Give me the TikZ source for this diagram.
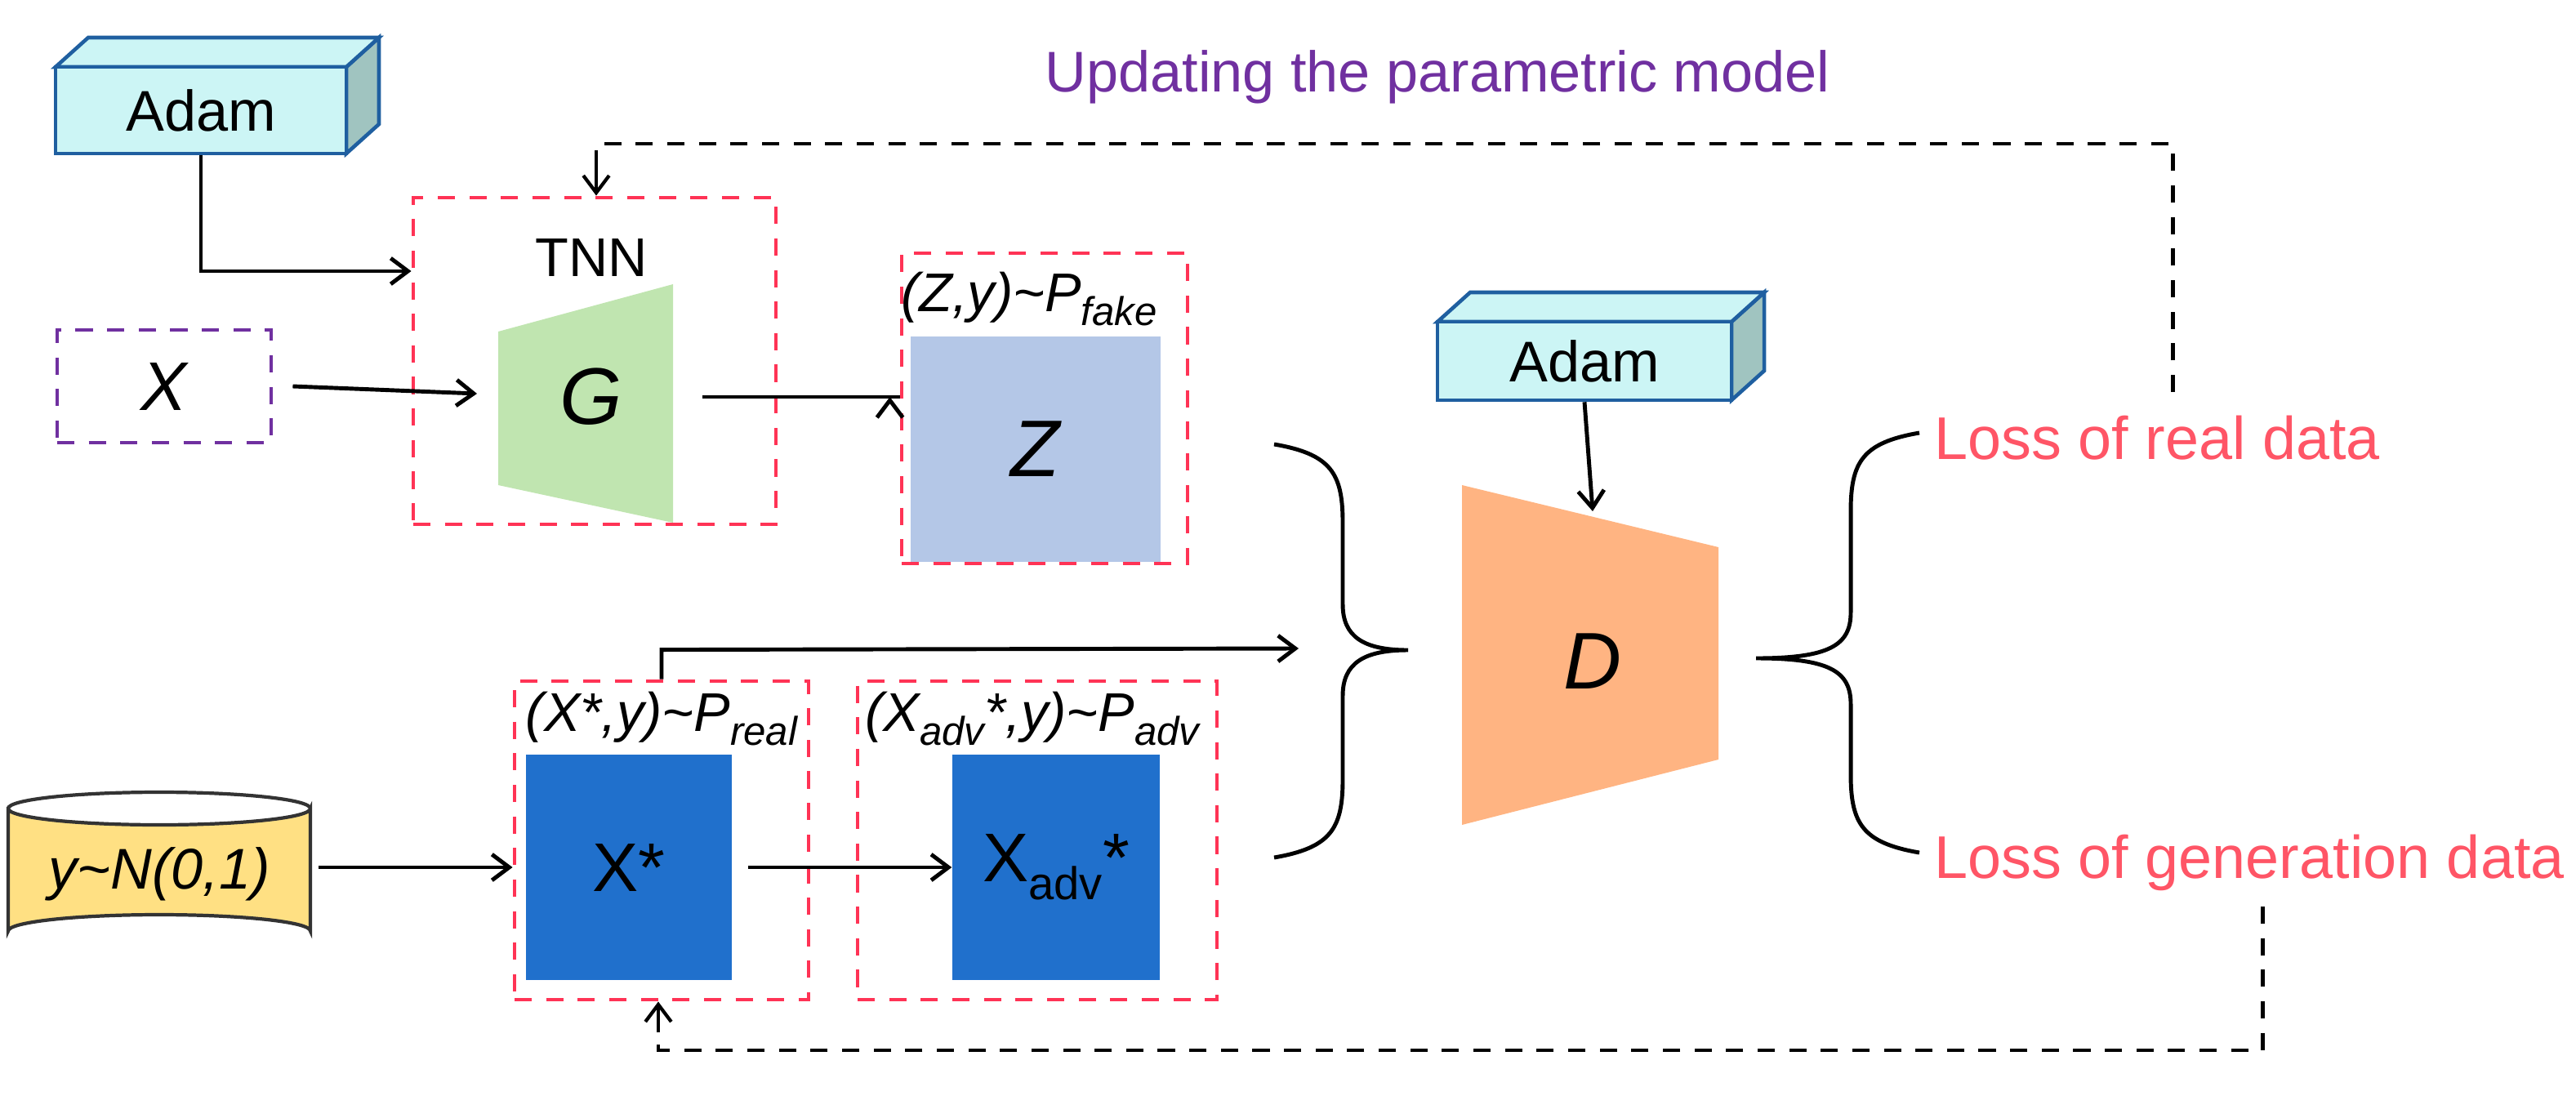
\documentclass[tikz,border=0pt]{standalone}
\usepackage{fontspec}
\setmainfont{Liberation Sans}
\usetikzlibrary{shapes.geometric,arrows.meta}
\definecolor{rd}{HTML}{FF3355}
\definecolor{lossc}{HTML}{FF5566}
\definecolor{pur}{HTML}{7030A0}
\definecolor{zf}{HTML}{B4C7E7}
\definecolor{xf}{HTML}{2070CC}
\definecolor{gf}{HTML}{C0E5B0}
\definecolor{df}{HTML}{FFB482}
\definecolor{adf}{HTML}{CCF5F5}
\definecolor{adb}{HTML}{1F5FA0}
\definecolor{ads}{HTML}{A0C4C0}
\definecolor{yf}{HTML}{FFE083}
\begin{document}
\begin{tikzpicture}[x=0.02cm,y=-0.02cm,
  arr/.style={-{Straight Barb[length=6pt,width=9pt]},line width=1.4pt},
  dsh/.style={line width=1.4pt,dash pattern=on 6pt off 5pt},
  rbox/.style={draw=rd,dsh,inner sep=0pt},
  lbl/.style={font=\fontsize{20}{24}\selectfont},
  loss/.style={font=\fontsize{21}{25}\selectfont,text=lossc,anchor=west}]
\useasboundingbox (0,0) rectangle (1577,670.5);
% Adam 1
\newcommand{\adambox}[4]{%
 \fill[ads,draw=adb,line width=1.3pt] (#3,#2)--(#3+20,#2-18)--(#3+20,#4-18)--(#3,#4)--cycle;
 \fill[adf,draw=adb,line width=1.3pt] (#1,#2)--(#1+20,#2-18)--(#3+20,#2-18)--(#3,#2)--cycle;}
\adambox{34}{41}{212}{94}
\node[draw=adb,fill=adf,line width=1.3pt,minimum width=178*0.02cm,minimum height=53*0.02cm,lbl] (adam1) at (123,67.5) {Adam};
% TNN
\node[rbox,minimum width=222*0.02cm,minimum height=200*0.02cm] (tnn) at (364,221) {};
\node[font=\fontsize{19}{22}\selectfont] (tnnl) at (362,158) {TNN};
\fill[gf] (305,203)--(412,174)--(412,320)--(305,297)--cycle;
\node[font=\fontsize{28}{32}\selectfont\itshape] (g) at (362,243) {G};
\coordinate (gR) at (430,243);
\coordinate (gL) at (292,241);
% X
\node[draw=pur,dsh,minimum width=131*0.02cm,minimum height=69*0.02cm,font=\fontsize{24}{28}\selectfont\itshape] (x) at (100.5,236.5) {X};
% Z
\node[rbox,minimum width=175*0.02cm,minimum height=190*0.02cm] (zb) at (639.5,250) {};
\node[lbl,font=\fontsize{19}{22}\selectfont\itshape] at (630,183) {(Z,y)\char`~P\raisebox{-0.5ex}{\fontsize{14}{16}\selectfont fake}};
\node[fill=zf,minimum width=153*0.02cm,minimum height=138*0.02cm,inner sep=0pt,font=\fontsize{28}{32}\selectfont\itshape] (z) at (634,275) {Z};
% Adam 2
\adambox{880}{197}{1060}{245}
\node[draw=adb,fill=adf,line width=1.3pt,minimum width=180*0.02cm,minimum height=48*0.02cm,lbl] (adam2) at (970,221) {Adam};
% D
\fill[df] (895,297)--(1052,335)--(1052,465)--(895,505)--cycle;
\node[font=\fontsize{28}{32}\selectfont\itshape] (d) at (975,405) {D};
\coordinate (dT) at (975,313);
% X* box
\node[rbox,minimum width=180*0.02cm,minimum height=195*0.02cm] (xsb) at (405,514.5) {};
\node[font=\fontsize{19}{22}\selectfont\itshape] at (405,440) {(X*,y)\char`~P\raisebox{-0.5ex}{\fontsize{14}{16}\selectfont real}};
\node[fill=xf,minimum width=126*0.02cm,minimum height=138*0.02cm,inner sep=0pt,font=\fontsize{24}{28}\selectfont] (xs) at (385,531) {X*};
% Xadv box
\node[rbox,minimum width=220*0.02cm,minimum height=195*0.02cm] (xab) at (635,514.5) {};
\node[font=\fontsize{19}{22}\selectfont\itshape] at (632,440) {(X\raisebox{-0.5ex}{\fontsize{14}{16}\selectfont adv}*,y)\char`~P\raisebox{-0.5ex}{\fontsize{14}{16}\selectfont adv}};
\node[fill=xf,minimum width=127*0.02cm,minimum height=138*0.02cm,inner sep=0pt,font=\fontsize{24}{28}\selectfont] (xa) at (646.5,531) {X\raisebox{-0.5ex}{\fontsize{16}{18}\selectfont adv}*};
% cylinder
\fill[yf,draw=black!80,line width=1.2pt] (5,495) -- (5,570) arc[x radius=92.5,y radius=10,start angle=180,end angle=360] -- (190,495) arc[x radius=92.5,y radius=10,start angle=0,end angle=180] -- cycle;
\draw[black!80,line width=1.2pt] (5,495) arc[x radius=92.5,y radius=10,start angle=180,end angle=360];
\node[font=\fontsize{20}{24}\selectfont\itshape] (cyl) at (97.5,535) {y\char`~N(0,1)};
\coordinate (cylR) at (195,531);
% labels
\node[font=\fontsize{20}{24}\selectfont,text=pur] (upd) at (880,47) {Updating the parametric model};
\node[loss] (lr) at (1178,268) {Loss of real data};
\node[loss] (lg) at (1178,528) {Loss of generation data};
% braces
\draw[line width=1.4pt] (780,272) .. controls (815,278) and (822,290) .. (822,320) -- (822,370) .. controls (822,390) and (835,398) .. (862,398)
  (780,525) .. controls (815,519) and (822,507) .. (822,477) -- (822,426) .. controls (822,406) and (835,398) .. (862,398);
\draw[line width=1.4pt] (1175,265) .. controls (1140,271) and (1133,283) .. (1133,313) -- (1133,375) .. controls (1133,395) and (1120,403) .. (1075,403)
  (1175,522) .. controls (1140,516) and (1133,504) .. (1133,474) -- (1133,431) .. controls (1133,411) and (1120,403) .. (1075,403);
% connectors
\draw[arr] (adam1.south) |- (tnn.west |- 0,166);
\draw[arr] (x.east) ++(12,0) -- (gL);
\draw[arr] (gR) -- (zb.west |- gR) ++(-6,0);
\draw[arr] (adam2.south) -- (dT);
\draw[arr] (cylR) -- (xsb.west |- cylR);
\draw[arr] (458,531) -- (xa.west);
\draw[arr] (xsb.north) -- ++(0,-18) -- (795,397);
\draw[dsh] (1330,240) -- (1330,88) -- (365,88) -- (365,100);
\draw[-{Straight Barb[length=6pt,width=9pt]},line width=1.2pt] (365,100) -- (tnn.north -| 365,0);
\draw[dsh] (1385,555) -- (1385,643) -- (403,643) -- (403,632);
\draw[-{Straight Barb[length=6pt,width=9pt]},line width=1.2pt] (403,632) -- (xsb.south -| 403,0);
\end{tikzpicture}
\end{document}
